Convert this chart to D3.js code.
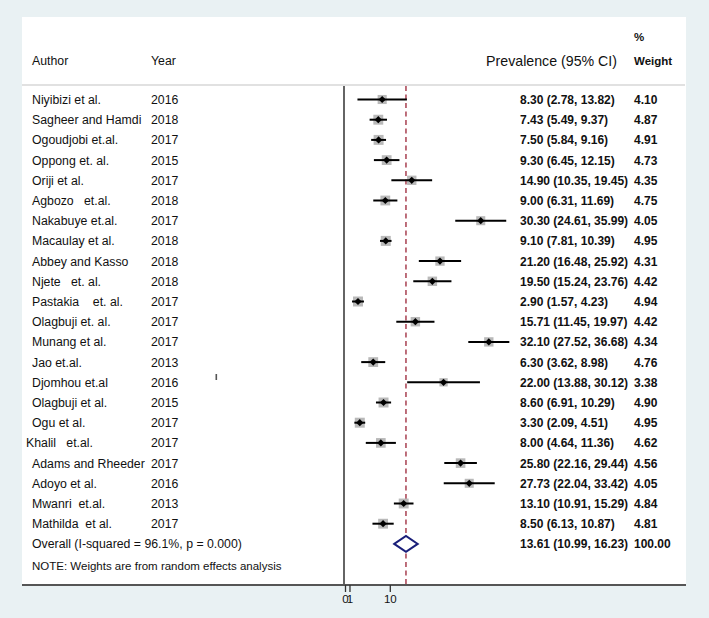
<!DOCTYPE html>
<html>
<head>
<meta charset="utf-8">
<script src="https://cdn.jsdelivr.net/npm/d3@7"></script>
<style>
  body { margin: 0; background: #e9f1f3; }
  text { font-family: "Liberation Sans", Arial, sans-serif; fill: #111; }
</style>
</head>
<body>
<div id="forest"></div>
<script>
var authors = ["Niyibizi et al.", "Sagheer and Hamdi", "Ogoudjobi et.al.", "Oppong et. al.", "Oriji et al.",
  "Agbozo   et.al.", "Nakabuye et.al.", "Macaulay et al.", "Abbey and Kasso", "Njete   et. al.",
  "Pastakia    et. al.", "Olagbuji et. al.", "Munang et al.", "Jao et.al.", "Djomhou et.al",
  "Olagbuji et al.", "Ogu et al.", "Khalil   et.al.", "Adams and Rheeder", "Adoyo et al.",
  "Mwanri  et.al.", "Mathilda  et al."];
var years = [2016, 2018, 2017, 2015, 2017, 2018, 2017, 2018, 2018, 2018, 2017, 2017, 2017, 2013, 2016,
  2015, 2017, 2017, 2017, 2016, 2013, 2017];
var prevalence = [8.30, 7.43, 7.50, 9.30, 14.90, 9.00, 30.30, 9.10, 21.20, 19.50, 2.90, 15.71, 32.10, 6.30,
  22.00, 8.60, 3.30, 8.00, 25.80, 27.73, 13.10, 8.50];
var lower = [2.78, 5.49, 5.84, 6.45, 10.35, 6.31, 24.61, 7.81, 16.48, 15.24, 1.57, 11.45, 27.52, 3.62,
  13.88, 6.91, 2.09, 4.64, 22.16, 22.04, 10.91, 6.13];
var upper = [13.82, 9.37, 9.16, 12.15, 19.45, 11.69, 35.99, 10.39, 25.92, 23.76, 4.23, 19.97, 36.68, 8.98,
  30.12, 10.29, 4.51, 11.36, 29.44, 33.42, 15.29, 10.87];
var weights = [4.10, 4.87, 4.91, 4.73, 4.35, 4.75, 4.05, 4.95, 4.31, 4.42, 4.94, 4.42, 4.34, 4.76, 3.38,
  4.90, 4.95, 4.62, 4.56, 4.05, 4.84, 4.81];
var overall = {est: 13.61, lo: 10.99, hi: 16.23, weight: 100.00};
var overallLabel = "Overall (I-squared = 96.1%, p = 0.000)";
var axisTicks = [0, 1, 10];

var svgWidth = 709;
var svgHeight = 618;

var panel = {left: 22, right: 686, top: 17, bottom: 585};

var fmt = d3.format(".2f");

var svg = d3.select("#forest")
  .append("svg")
  .attr("width", svgWidth)
  .attr("height", svgHeight);

// white plot region
svg.append("rect")
  .attr("x", panel.left)
  .attr("y", panel.top)
  .attr("width", panel.right - panel.left)
  .attr("height", panel.bottom - panel.top)
  .attr("fill", "#ffffff");

// scales
var xScale = d3.scaleLinear()
  .domain([0, 10])
  .range([345, 389.8]);

var yScale = d3.scaleLinear()
  .domain([0, authors.length])
  .range([99.5, 99.5 + 20.2 * authors.length]);

// header
svg.append("text").attr("x", 32).attr("y", 65).attr("font-size", 12.3).text("Author");
svg.append("text").attr("x", 151).attr("y", 65).attr("font-size", 12.3).text("Year");
svg.append("text").attr("x", 617).attr("y", 66).attr("font-size", 14.2)
  .attr("text-anchor", "end").text("Prevalence (95% CI)");
svg.append("text").attr("x", 634).attr("y", 41).attr("font-size", 11.5)
  .attr("font-weight", "bold").text("%");
svg.append("text").attr("x", 634).attr("y", 65).attr("font-size", 11.5)
  .attr("font-weight", "bold").text("Weight");

svg.append("line")
  .attr("x1", panel.left).attr("x2", panel.right - 1)
  .attr("y1", 85).attr("y2", 85)
  .attr("stroke", "#c4c4c4").attr("stroke-width", 1.2);

// null line and overall line
svg.append("line")
  .attr("x1", xScale(0) - 1).attr("x2", xScale(0) - 1)
  .attr("y1", 86).attr("y2", panel.bottom)
  .attr("stroke", "#111").attr("stroke-width", 1.3);

svg.append("line")
  .attr("x1", xScale(overall.est)).attr("x2", xScale(overall.est))
  .attr("y1", 86).attr("y2", panel.bottom)
  .attr("stroke", "#9b2335").attr("stroke-width", 1.3)
  .attr("stroke-dasharray", "5,3.5");

// study rows
var rows = svg.selectAll("g.study")
  .data(authors)
  .enter()
  .append("g")
  .attr("class", "study")
  .attr("transform", (d, i) => `translate(0, ${yScale(i)})`);

rows.append("text")
  .attr("x", (d, i) => i === 17 ? 26 : 32)
  .attr("y", 4.5)
  .attr("font-size", 12.3)
  .style("white-space", "pre")
  .text(d => d);

rows.append("text")
  .attr("x", 151)
  .attr("y", 4.5)
  .attr("font-size", 12.3)
  .text((d, i) => years[i]);

rows.append("rect")
  .attr("x", (d, i) => xScale(prevalence[i]) - 5 * Math.sqrt(weights[i] / 4.95))
  .attr("y", (d, i) => -5 * Math.sqrt(weights[i] / 4.95))
  .attr("width", (d, i) => 10 * Math.sqrt(weights[i] / 4.95))
  .attr("height", (d, i) => 10 * Math.sqrt(weights[i] / 4.95))
  .attr("fill", "#b9b9b9");

rows.append("line")
  .attr("x1", (d, i) => xScale(lower[i]))
  .attr("x2", (d, i) => xScale(upper[i]))
  .attr("y1", 0).attr("y2", 0)
  .attr("stroke", "#000").attr("stroke-width", 2);

rows.append("path")
  .attr("d", (d, i) => {
    var cx = xScale(prevalence[i]);
    return `M${cx - 3.6},0L${cx},-3.6L${cx + 3.6},0L${cx},3.6Z`;
  })
  .attr("fill", "#000");

rows.append("text")
  .attr("x", 520)
  .attr("y", 4.5)
  .attr("font-size", 12)
  .attr("font-weight", "bold")
  .attr("fill", "#222")
  .text((d, i) => `${fmt(prevalence[i])} (${fmt(lower[i])}, ${fmt(upper[i])})`);

rows.append("text")
  .attr("x", 634)
  .attr("y", 4.5)
  .attr("font-size", 12)
  .attr("font-weight", "bold")
  .attr("fill", "#222")
  .text((d, i) => fmt(weights[i]));

// overall row
var yo = yScale(authors.length);
svg.append("text").attr("x", 32).attr("y", yo + 4.5).attr("font-size", 12.3).text(overallLabel);

svg.append("path")
  .attr("d", `M${xScale(overall.lo)},${yo}L${xScale(overall.est)},${yo - 8}L${xScale(overall.hi)},${yo}L${xScale(overall.est)},${yo + 8}Z`)
  .attr("fill", "#fff")
  .attr("stroke", "#1a1f7a")
  .attr("stroke-width", 2);

svg.append("text").attr("x", 520).attr("y", yo + 4.5).attr("font-size", 12)
  .attr("font-weight", "bold").attr("fill", "#222")
  .text(`${fmt(overall.est)} (${fmt(overall.lo)}, ${fmt(overall.hi)})`);
svg.append("text").attr("x", 634).attr("y", yo + 4.5).attr("font-size", 12)
  .attr("font-weight", "bold").attr("fill", "#222")
  .text(fmt(overall.weight));

svg.append("text").attr("x", 32).attr("y", 570).attr("font-size", 11.5)
  .text("NOTE: Weights are from random effects analysis");

// stray mark in the original
svg.append("rect").attr("x", 215.5).attr("y", 374).attr("width", 1.6).attr("height", 6).attr("fill", "#555");

// bottom border / axis
svg.append("line")
  .attr("x1", panel.left).attr("x2", panel.right)
  .attr("y1", panel.bottom).attr("y2", panel.bottom)
  .attr("stroke", "#555").attr("stroke-width", 2);

var bottomAxis = d3.axisBottom(xScale)
  .tickValues(axisTicks)
  .tickFormat(d3.format("d"))
  .tickSize(7)
  .tickPadding(3);

var axisG = svg.append("g")
  .attr("transform", `translate(0, ${panel.bottom})`)
  .call(bottomAxis);

axisG.select(".domain").remove();
axisG.selectAll(".tick line").attr("stroke", "#333").attr("stroke-width", 1.3);
axisG.selectAll(".tick text")
  .attr("font-family", "Liberation Sans, Arial, sans-serif")
  .attr("font-size", 11.5)
  .attr("fill", "#111");
</script>
</body>
</html>
